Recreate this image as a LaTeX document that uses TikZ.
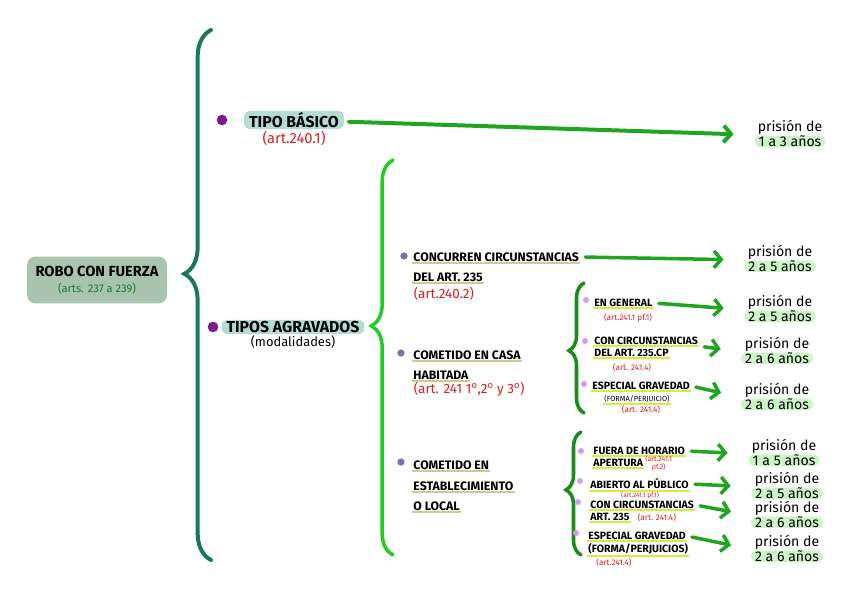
\documentclass[tikz,border=0pt]{standalone}
\usepackage{fontspec}
\setmainfont{Fira Sans}
\usetikzlibrary{arrows.meta, positioning, decorations.pathreplacing, calc}
\definecolor{rootfill}{HTML}{A8C4AF}
\definecolor{rootsub}{HTML}{1F7A2A}
\definecolor{mainbrace}{HTML}{17795A}
\definecolor{greenbrace}{HTML}{22CC22}
\definecolor{darkbrace}{HTML}{1A8C1A}
\definecolor{arrgreen}{HTML}{1FA51F}
\definecolor{dotpurple}{HTML}{7C1E8E}
\definecolor{dotlav}{HTML}{7F6FB5}
\definecolor{dotlilac}{HTML}{D39CF0}
\definecolor{hiteal}{HTML}{B3DDD2}
\definecolor{higreen}{HTML}{CBF5C4}
\definecolor{artred}{HTML}{E01B1B}
\definecolor{ulolive}{HTML}{CFCB8A}
\definecolor{ullime}{HTML}{D6EE3A}
\begin{document}
\begin{tikzpicture}[x=0.3mm, y=-0.3mm,
    rootbox/.style={fill=rootfill, rounded corners=2.5mm, minimum width=42mm, minimum height=14mm, align=center, font=\bfseries\fontsize{12.5}{14}\selectfont},
    dotA/.style={circle, fill=dotpurple, inner sep=0pt, minimum size=3.2mm},
    dotB/.style={circle, fill=dotlav, inner sep=0pt, minimum size=2.2mm},
    dotC/.style={circle, fill=dotlilac, inner sep=0pt, minimum size=1.8mm},
    head/.style={fill=hiteal, rounded corners=1.8mm, inner xsep=1.5mm, inner ysep=0.4mm, font=\bfseries\fontsize{13.5}{14}\selectfont},
    note/.style={text=artred, inner sep=0.5pt, font=\fontsize{11.5}{12}\selectfont},
    tiny/.style={inner sep=0.5pt, font=\fontsize{7}{7.5}\selectfont},
    ul/.style={inner sep=1pt, append after command={(\tikzlastnode.south west) edge[draw=#1, line width=1.7pt] (\tikzlastnode.south east)}},
    itemB/.style={ul=ulolive, anchor=west, font=\bfseries\fontsize{10.5}{11}\selectfont},
    itemC/.style={ul=ullime, anchor=west, font=\bfseries\fontsize{9}{9.5}\selectfont},
    prison/.style={inner sep=0.5pt, font=\fontsize{12}{13}\selectfont},
    years/.style={fill=higreen, rounded corners=1.8mm, inner xsep=1.2mm, inner ysep=0.1mm, font=\fontsize{12}{13}\selectfont},
    brc/.style n args={3}{draw=#1, line width=#2, line cap=round, decorate, decoration={brace, amplitude=#3}},
    arr/.style={draw=arrgreen, line width=3pt, line cap=round, shorten <=1.5mm, shorten >=7mm, -{Straight Barb[length=2.2mm, width=5mm]}}
  ]
  \useasboundingbox (0,0) rectangle (848,599);

  % raiz
  \node[rootbox] (robo) at (97,280) {ROBO CON FUERZA\\[-1pt]{\mdseries\color{rootsub}\fontsize{9.5}{10}\selectfont(arts. 237 a 239)}};
  \coordinate (b0top) at (211,30);
  \coordinate (b0bot) at (211,560);
  \draw[brc={mainbrace}{3.4pt}{8mm}, decoration={aspect=0.54}] (b0bot) -- (b0top);

  % tipo basico
  \node[dotA] (d0) at (222,120) {};
  \node[head] (tb) at (294,120) {TIPO BÁSICO};
  \node[note, below=0.3mm of tb, font=\fontsize{12.5}{13}\selectfont] (tbart) {(art.240.1)};

  % tipos agravados
  \node[dotA] (d1) at (213,327) {};
  \node[head] (ta) at (293,327) {TIPOS AGRAVADOS};
  \node[inner sep=0.5pt, below=0.2mm of ta, font=\fontsize{11}{12}\selectfont] (tamod) {(modalidades)};
  \coordinate (b1top) at (393,160);
  \coordinate (b1bot) at (393,555);
  \draw[brc={greenbrace}{3pt}{6.5mm}, decoration={aspect=0.58}] (b1bot) -- (b1top);

  % concurren circunstancias
  \node[dotB] (e1) at (404,256) {};
  \node[itemB] (c1a) at (412,257) {CONCURREN CIRCUNSTANCIAS};
  \node[itemB] (c1b) at (412,277) {DEL ART. 235};
  \node[note, anchor=west] (c1r) at (413,294) {(art.240.2)};

  % casa habitada
  \node[dotB] (e2) at (401,353) {};
  \node[itemB] (c2a) at (412,355) {COMETIDO EN CASA};
  \node[itemB] (c2b) at (412,375) {HABITADA};
  \node[note, anchor=west] (c2r) at (413,389) {(art. 241 1\textsuperscript{o},2\textsuperscript{o} y 3\textsuperscript{o})};
  \coordinate (b2top) at (584,283);
  \coordinate (b2bot) at (584,413);
  \draw[brc={darkbrace}{3pt}{4.5mm}, decoration={aspect=0.48}] (b2bot) -- (b2top);

  \node[dotC] (f1) at (586,300) {};
  \node[itemC] (s1) at (593,303) {EN GENERAL};
  \node[tiny, text=artred] (s1r) at (628,318) {(art.241.1 pf.1)};
  \node[dotC] (f2) at (585,341) {};
  \node[itemC] (s2a) at (593,341) {CON CIRCUNSTANCIAS};
  \node[itemC] (s2b) at (593,353) {DEL ART. 235.CP};
  \node[tiny, text=artred] (s2r) at (632,368) {(art. 241.4)};
  \node[dotC] (f3) at (584,384) {};
  \node[itemC] (s3a) at (591,386) {ESPECIAL GRAVEDAD};
  \node[tiny, ul=ullime, font=\fontsize{6.3}{7}\selectfont] (s3b) at (637,399) {(FORMA/PERJUICIO)};
  \node[tiny, text=artred] (s3r) at (641,410) {(art. 241.4)};

  % establecimiento
  \node[dotB] (e3) at (401,462) {};
  \node[itemB] (c3a) at (412,465) {COMETIDO EN};
  \node[itemB] (c3b) at (412,486) {ESTABLECIMIENTO};
  \node[itemB] (c3c) at (412,506) {O LOCAL};
  \coordinate (b3top) at (581,432);
  \coordinate (b3bot) at (581,555);
  \draw[brc={darkbrace}{3pt}{4.5mm}, decoration={aspect=0.53}] (b3bot) -- (b3top);

  \node[dotC] (g1) at (581,451) {};
  \node[itemC] (t1a) at (592,451) {FUERA DE HORARIO};
  \node[itemC] (t1b) at (592,463) {APERTURA};
  \node[tiny, text=artred, anchor=west, align=center, font=\fontsize{6}{6.5}\selectfont] (t1r) at (t1b.east) {(art.241.1\\pf.2)};
  \node[dotC] (g2) at (580,481) {};
  \node[itemC] (t2) at (589,484) {ABIERTO AL PÚBLICO};
  \node[tiny, text=artred, font=\fontsize{5.5}{6}\selectfont] (t2r) at (640,495) {(art.241.1 pf.1)};
  \node[dotC] (g3) at (578,502) {};
  \node[itemC] (t3a) at (589,505) {CON CIRCUNSTANCIAS};
  \node[itemC] (t3b) at (589,517) {ART. 235};
  \node[tiny, text=artred, anchor=west] (t3r) at (637,518) {(art. 241.4)};
  \node[dotC] (g4) at (576,533) {};
  \node[itemC] (t4a) at (587,536) {ESPECIAL GRAVEDAD};
  \node[itemC] (t4b) at (587,549) {(FORMA/PERJUICIOS)};
  \node[tiny, text=artred] (t4r) at (614,563) {(art.241.4)};

  % penas
  \foreach \i/\px/\py/\yrs in {0/790/127/1 a 3 años, 1/780/252/2 a 5 años, 2/780/302/2 a 5 años,
      3/777/344/2 a 6 años, 4/777/390/2 a 6 años, 5/784/446/1 a 5 años, 6/787/479/2 a 5 años,
      7/787/508/2 a 6 años, 8/787/542/2 a 6 años} {
    \node[prison] (pris\i) at (\px,\py) {prisión de};
    \node[years, below=0.1mm of pris\i] (yrs\i) {\yrs};
  }

  \draw[arr, line width=3.4pt] (tb) -- (pris0.south west);
  \draw[arr] (c1a.east) -- (pris1.south west);
  \draw[arr] (s1.east) -- (pris2.south west);
  \draw[arr] (s2a.south east) -- (pris3.south west);
  \draw[arr] (s3a.east) -- (pris4.south west);
  \draw[arr] (t1a.east) -- (pris5.south west);
  \draw[arr] (t2.east) -- (pris6.south west);
  \draw[arr] (t3a.east) -- (pris7.south west);
  \draw[arr] (t4a.east) -- (pris8.south west);
\end{tikzpicture}
\end{document}
